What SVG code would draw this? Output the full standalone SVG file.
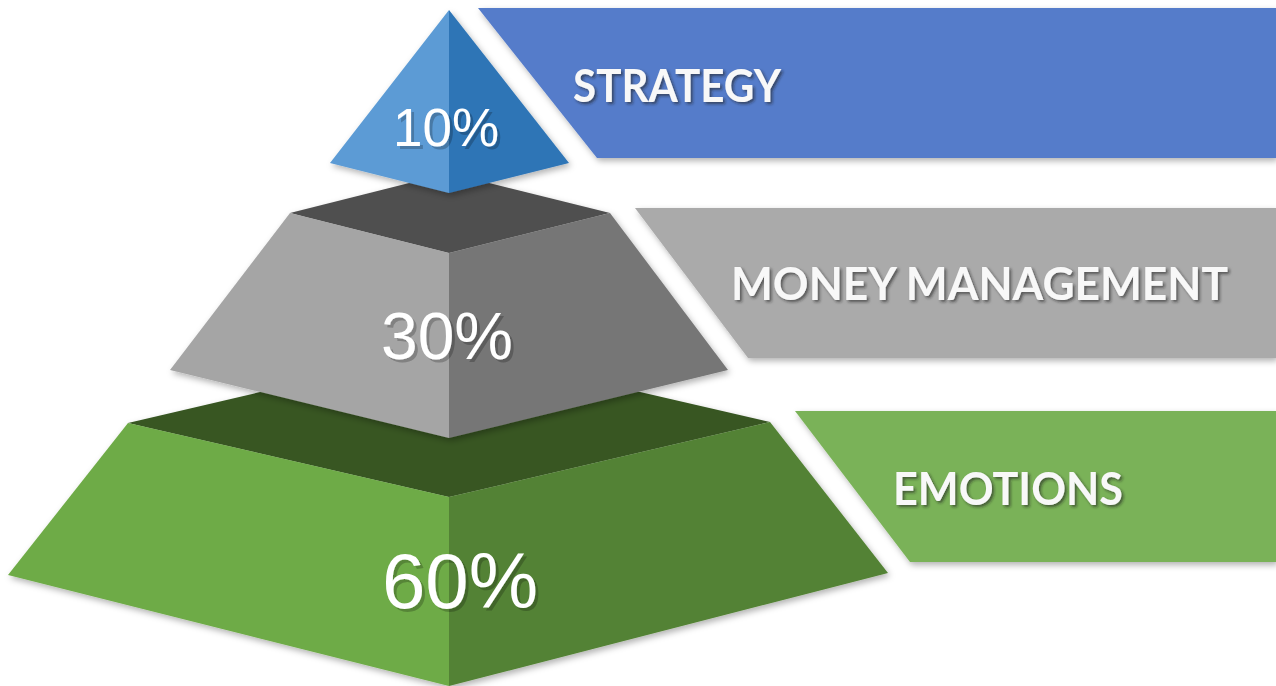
<svg xmlns="http://www.w3.org/2000/svg" width="1276" height="686" viewBox="0 0 1276 686">
<defs>
<filter id="sh" x="-10%" y="-10%" width="120%" height="120%">
<feDropShadow dx="2" dy="3" stdDeviation="3" flood-color="#000" flood-opacity="0.3"/>
</filter>
<filter id="tsh" x="-10%" y="-20%" width="130%" height="150%">
<feDropShadow dx="2" dy="2" stdDeviation="1.5" flood-color="#222" flood-opacity="0.6"/>
</filter>
<filter id="psh" x="-10%" y="-20%" width="130%" height="150%">
<feDropShadow dx="3" dy="3" stdDeviation="0.5" flood-color="#000" flood-opacity="0.22"/>
</filter>
</defs>
<style>
.pct{font-family:"Liberation Sans",Arial,sans-serif;fill:#fff;text-anchor:middle}
.lbl{font-family:Lato,"Liberation Sans",sans-serif;font-weight:bold;fill:#f8f8f8;font-size:46px}
</style>
<rect width="1276" height="686" fill="#fff"/>
<g id="banner-strategy">
<polygon points="478,8 1276,8 1276,158 597,158" fill="#547bca" filter="url(#sh)"/>
<text class="lbl" x="573" y="102" textLength="208" lengthAdjust="spacingAndGlyphs" filter="url(#tsh)">STRATEGY</text>
</g>
<g id="banner-money">
<polygon points="635,208 1276,208 1276,358 748,358" fill="#aaaaaa" filter="url(#sh)"/>
<text class="lbl" x="731" y="300" textLength="497" lengthAdjust="spacingAndGlyphs" filter="url(#tsh)">MONEY MANAGEMENT</text>
</g>
<g id="banner-emotions">
<polygon points="795,411 1276,411 1276,562 910,562" fill="#7ab258" filter="url(#sh)"/>
<text class="lbl" x="893" y="505" textLength="230" lengthAdjust="spacingAndGlyphs" filter="url(#tsh)">EMOTIONS</text>
</g>
<g id="tier-emotions">
<g filter="url(#sh)">
<polygon points="128,423 449,348 770,422 449,497" fill="#375623"/>
<polygon points="128,423 449,497 449,686 8,575" fill="#6eab46"/>
<polygon points="449,497 770,422 888,573 449,686" fill="#538234"/>
</g>
<text class="pct" x="460" y="608" font-size="78" filter="url(#psh)">60%</text>
</g>
<g id="tier-money">
<g filter="url(#sh)">
<polygon points="290,213 449,173 610,213 449,253" fill="#4f4f4f"/>
<polygon points="290,213 449,253 449,438 170,370" fill="#a5a5a5"/>
<polygon points="449,253 610,213 728,370 449,438" fill="#767676"/>
</g>
<text class="pct" x="447" y="359" font-size="66" filter="url(#psh)">30%</text>
</g>
<g id="tier-strategy">
<g filter="url(#sh)">
<polygon points="449,10 449,193 330,163" fill="#5b9bd5"/>
<polygon points="449,10 569,163 449,193" fill="#2e75b6"/>
</g>
<text class="pct" x="446" y="146" font-size="53" filter="url(#psh)">10%</text>
</g>
<g id="connectors"></g>
</svg>
